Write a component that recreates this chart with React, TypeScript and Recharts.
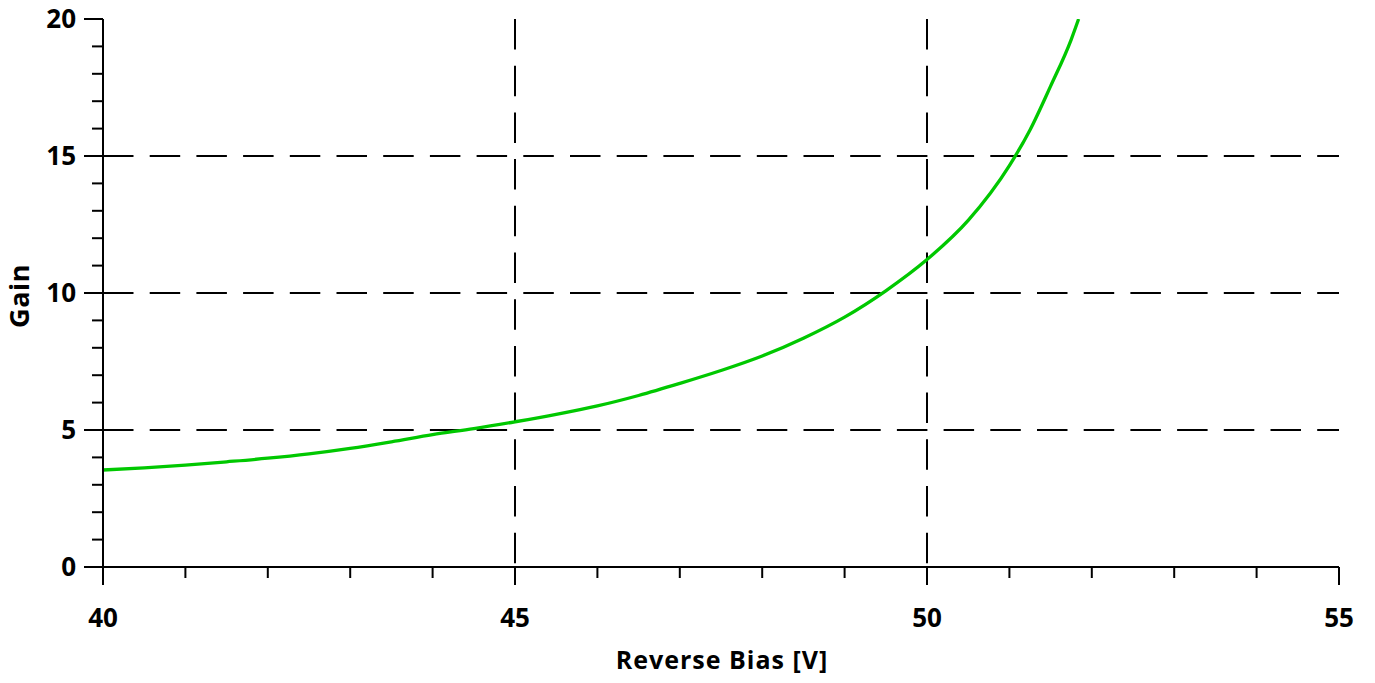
import React from 'react';
import { LineChart, Line, XAxis, YAxis, ReferenceLine } from 'recharts';

const biasVolts = [40, 40.5, 41, 41.5, 42, 42.5, 43, 43.5, 44, 44.5, 45, 45.5, 46, 46.5, 47, 47.5, 48, 48.5, 49, 49.5, 50, 50.5, 51, 51.25, 51.5, 51.75, 51.84];
const gainValues = [3.54, 3.62, 3.72, 3.84, 3.97, 4.13, 4.33, 4.57, 4.83, 5.05, 5.3, 5.57, 5.88, 6.26, 6.7, 7.17, 7.7, 8.35, 9.12, 10.08, 11.22, 12.65, 14.65, 15.95, 17.55, 19.25, 20];
const xTicks = [40, 41, 42, 43, 44, 45, 46, 47, 48, 49, 50, 51, 52, 53, 54, 55];
const yTicks = [0, 1, 2, 3, 4, 5, 6, 7, 8, 9, 10, 11, 12, 13, 14, 15, 16, 17, 18, 19, 20];
const xGrid = [45, 50];
const yGrid = [5, 10, 15];

const data = biasVolts.map((v, i) => ({ v, gain: gainValues[i] }));

const FONT = "'Open Sans', sans-serif";
const DASH = '30.5 16.2';

const XTick = (props: any) => {
  const { x, y, payload } = props;
  const major = payload.value % 5 === 0;
  return (
    <g>
      <line x1={x} x2={x} y1={y} y2={y + (major ? 18 : 11)} stroke="#000" strokeWidth={2} />
      {major && (
        <text x={x} y={y + 60} textAnchor="middle" fontFamily={FONT} fontWeight={700} fontSize={26} fill="#000">
          {payload.value}
        </text>
      )}
    </g>
  );
};

const YTick = (props: any) => {
  const { x, y, payload } = props;
  const major = payload.value % 5 === 0;
  return (
    <g>
      <line x1={x - (major ? 19 : 11)} x2={x} y1={y} y2={y} stroke="#000" strokeWidth={2} />
      {major && (
        <text x={x - 27} y={y + 9.3} textAnchor="end" fontFamily={FONT} fontWeight={700} fontSize={26} fill="#000">
          {payload.value}
        </text>
      )}
    </g>
  );
};

const XTitle = (props: any) => {
  const vb = props.viewBox || { x: 103, y: 567, width: 1236, height: 116 };
  return (
    <text x={vb.x + vb.width / 2 + 1} y={vb.y + vb.height - 14} textAnchor="middle" fontFamily={FONT} fontWeight={700} fontSize={25} letterSpacing={1} fill="#000">
      Reverse Bias [V]
    </text>
  );
};

const YTitle = (props: any) => {
  const vb = props.viewBox || { x: 0, y: 19, width: 103, height: 548 };
  const cy = vb.y + vb.height / 2 + 3;
  return (
    <text x={29} y={cy} transform={`rotate(-90, 29, ${cy})`} textAnchor="middle" fontFamily={FONT} fontWeight={700} fontSize={27} letterSpacing={0.5} fill="#000">
      Gain
    </text>
  );
};

export default function App() {
  return (
    <div style={{ marginTop: -8, marginLeft: -8 }}>
      <LineChart width={1375} height={683} data={data} margin={{ top: 19, right: 36, left: 0, bottom: 0 }}>
        <XAxis
          type="number"
          dataKey="v"
          domain={[40, 55]}
          ticks={xTicks}
          interval={0}
          height={116}
          tickSize={0}
          tickMargin={0}
          tickLine={false}
          tick={<XTick />}
          axisLine={{ stroke: '#000', strokeWidth: 2 }}
          label={<XTitle />}
          allowDataOverflow
        />
        <YAxis
          type="number"
          domain={[0, 20]}
          ticks={yTicks}
          interval={0}
          width={103}
          tickSize={0}
          tickMargin={0}
          tickLine={false}
          tick={<YTick />}
          axisLine={{ stroke: '#000', strokeWidth: 2 }}
          label={<YTitle />}
          allowDataOverflow
        />
        {yGrid.map((g) => (
          <ReferenceLine key={`h${g}`} segment={[{ x: 40, y: g }, { x: 55, y: g }]} stroke="#000" strokeWidth={2} strokeDasharray={DASH} />
        ))}
        {xGrid.map((g) => (
          <ReferenceLine key={`v${g}`} segment={[{ x: g, y: 20 }, { x: g, y: 0 }]} stroke="#000" strokeWidth={2} strokeDasharray={DASH} />
        ))}
        <Line type="monotone" dataKey="gain" stroke="#00c800" strokeWidth={3.3} dot={false} isAnimationActive={false} />
      </LineChart>
    </div>
  );
}
